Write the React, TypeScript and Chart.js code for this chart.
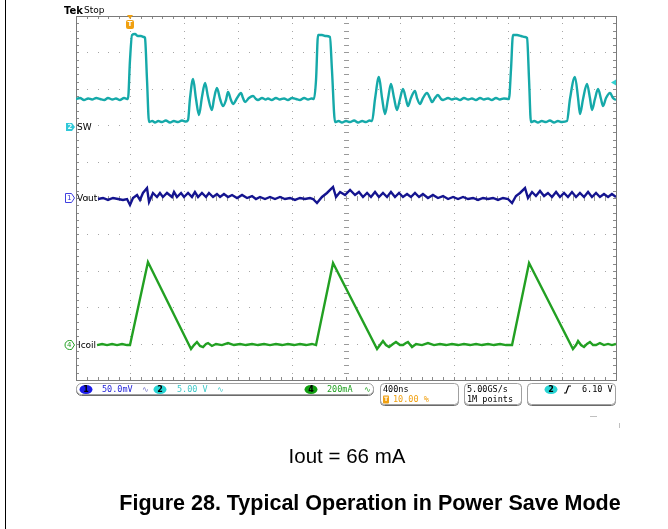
import React, { useEffect, useRef } from 'react';
import { Chart, registerables } from 'chart.js';

Chart.register(...registerables);

// ---- Scope settings ----
const timePerDivNs = 400;
const horizontalDivisions = 10;
const verticalDivisions = 10;
const triggerPositionPercent = 10;
const triggerLevelVolts = 6.1;

const swVoltsPerDiv = 5;
const swPositionDiv = 1.95;
const voutMilliVoltsPerDiv = 50;
const voutPositionDiv = 0;
const icoilMilliAmpsPerDiv = 200;
const icoilPositionDiv = -4;

// ---- Traces: [time ns, value] ----
const swTrace: number[][] = [
  [-400, 3.85], [-370, 3.98], [-341, 3.71], [-310, 3.92], [-281, 3.78], [-250, 3.98], [-222, 3.85], [-190, 3.71],
  [-163, 3.98], [-130, 3.78], [-104, 3.92], [-75, 3.71], [-44, 3.98], [-15, 3.85], [0, 9.2], [15, 12.64], [37, 12.77],
  [59, 12.5], [81, 12.5], [104, 12.36], [111, 12.23], [126, 6.46], [141, 0.69], [165, 0.82], [185, 0.62], [210, 0.82],
  [237, 0.69], [265, 0.89], [296, 0.62], [325, 0.82], [356, 0.69], [385, 0.89], [415, 0.75], [430, 0.96], [444, 3.85],
  [467, 6.59], [489, 3.85], [511, 1.65], [533, 4.12], [556, 6.04], [578, 4.12], [607, 2.34], [622, 3.85], [644, 5.36],
  [667, 3.85], [689, 2.88], [711, 3.71], [726, 4.81], [748, 3.71], [763, 3.16], [793, 3.98], [822, 4.67], [837, 3.98],
  [852, 3.43], [881, 3.98], [911, 4.26], [933, 3.85], [948, 3.71], [978, 3.98], [1005, 3.78], [1022, 3.92], [1050, 3.71],
  [1081, 3.98], [1110, 3.78], [1141, 3.92], [1170, 3.71], [1200, 3.98], [1230, 3.85], [1259, 3.71], [1290, 3.98],
  [1319, 3.78], [1345, 3.92], [1363, 3.85], [1378, 6.46], [1393, 12.64], [1422, 12.64], [1452, 12.5], [1481, 12.36],
  [1496, 7.83], [1519, 0.69], [1545, 0.82], [1570, 0.62], [1600, 0.82], [1630, 0.69], [1660, 0.89], [1689, 0.62],
  [1720, 0.82], [1748, 0.69], [1775, 0.89], [1793, 0.82], [1815, 3.85], [1844, 6.87], [1867, 3.98], [1889, 1.79],
  [1911, 3.85], [1933, 5.91], [1956, 3.98], [1978, 2.34], [2000, 3.85], [2022, 5.22], [2044, 3.85], [2059, 2.88],
  [2081, 3.98], [2111, 4.95], [2126, 3.98], [2148, 3.16], [2170, 3.98], [2200, 4.67], [2222, 3.98], [2237, 3.43],
  [2259, 3.98], [2281, 4.4], [2304, 3.85], [2319, 3.71], [2356, 3.98], [2385, 3.78], [2415, 3.92], [2445, 3.71],
  [2474, 3.98], [2505, 3.78], [2533, 3.92], [2563, 3.71], [2593, 3.98], [2622, 3.78], [2652, 3.92], [2680, 3.71],
  [2711, 3.98], [2740, 3.78], [2770, 3.92], [2807, 3.85], [2822, 7.83], [2837, 12.64], [2867, 12.64], [2896, 12.5],
  [2926, 12.36], [2941, 12.23], [2956, 6.46], [2970, 0.69], [2995, 0.82], [3022, 0.62], [3050, 0.82], [3081, 0.69],
  [3110, 0.89], [3141, 0.62], [3170, 0.82], [3200, 0.69], [3237, 0.82], [3259, 3.85], [3296, 6.87], [3319, 3.98],
  [3333, 1.79], [3356, 3.85], [3385, 5.91], [3407, 3.98], [3422, 2.34], [3444, 3.85], [3467, 5.22], [3489, 3.85],
  [3504, 2.88], [3526, 3.98], [3556, 4.67], [3578, 3.98], [3600, 3.71],
];

const voutTrace: number[][] = [
  [-237, -1.4], [-200, 0], [-163, -2.7], [-126, 0], [-89, -1.4], [-52, -2.7], [-22, -1.4], [0, -9.6], [22, 0], [52, 4.1],
  [74, -2.7], [96, 6.9], [126, 13.7], [141, -5.5], [170, 6.9], [200, 1.4], [222, 6.9], [244, 1.4], [274, 6.9], [311, 1.4],
  [326, 8.2], [348, 1.4], [378, 6.9], [400, 1.4], [430, 6.9], [459, 1.4], [481, 8.2], [504, 1.4], [533, 6.9], [563, 1.4],
  [585, 6.9], [615, 1.4], [644, 5.5], [667, 1.4], [696, 5.5], [726, 1.4], [756, 4.1], [793, 0], [830, 4.1], [867, 0],
  [904, 2.7], [933, -1.4], [963, 1.4], [1000, -1.4], [1037, 1.4], [1074, -1.4], [1111, 1.4], [1148, -1.4], [1185, 0],
  [1222, -2.7], [1259, 0], [1296, -1.4], [1333, 0], [1356, -1.4], [1385, -6.9], [1422, 1.4], [1459, 6.9], [1504, 15.1],
  [1526, 1.4], [1556, 8.2], [1593, 4.1], [1630, 11], [1667, 4.1], [1696, 8.2], [1726, 1.4], [1756, 6.9], [1785, 1.4],
  [1815, 8.2], [1844, 1.4], [1874, 6.9], [1904, 1.4], [1933, 8.2], [1963, 1.4], [1993, 6.9], [2022, 1.4], [2052, 5.5],
  [2081, 1.4], [2111, 6.9], [2141, 1.4], [2170, 5.5], [2207, 0], [2244, 4.1], [2281, 0], [2319, 2.7], [2356, -1.4],
  [2393, 1.4], [2430, -1.4], [2467, 1.4], [2504, -1.4], [2541, 0], [2578, -2.7], [2615, 0], [2652, -1.4], [2689, 0],
  [2726, -2.7], [2763, 0], [2800, -1.4], [2830, -6.9], [2859, 2.7], [2889, 6.9], [2926, 13.7], [2948, 0], [2978, 8.2],
  [3007, 2.7], [3037, 9.6], [3067, 2.7], [3096, 6.9], [3126, 1.4], [3156, 8.2], [3185, 1.4], [3215, 6.9], [3244, 1.4],
  [3274, 8.2], [3304, 1.4], [3333, 6.9], [3363, 1.4], [3393, 8.2], [3422, 1.4], [3452, 6.9], [3481, 1.4], [3511, 5.5],
  [3541, 1.4], [3570, 5.5], [3600, 1.4],
];

const icoilTrace: number[][] = [
  [-244, -8], [-207, -2], [-170, -8], [-133, -2], [-96, -8], [-59, -2], [-22, -8], [0, -8], [133, 448], [452, -30],
  [474, -8], [496, 9], [519, -13], [541, -19], [563, -2], [578, 3], [607, -13], [637, -2], [681, -8], [726, 3], [770, -8],
  [815, -2], [859, -8], [904, -2], [948, -8], [993, -2], [1037, -8], [1081, -2], [1126, -8], [1170, -2], [1215, -8],
  [1259, -2], [1304, -8], [1348, -2], [1378, -8], [1504, 443], [1830, -30], [1852, -8], [1874, 14], [1896, -8],
  [1919, -19], [1948, -2], [1970, 9], [2000, -8], [2022, -8], [2044, 3], [2059, 9], [2089, -19], [2119, -2], [2163, -8],
  [2207, 3], [2252, -8], [2296, -2], [2341, -8], [2385, -2], [2430, -8], [2474, -2], [2519, -8], [2563, -2], [2607, -8],
  [2652, -2], [2696, -8], [2741, -2], [2785, -8], [2830, -8], [2956, 443], [3281, -30], [3304, -8], [3319, 14],
  [3341, -8], [3363, -19], [3385, -2], [3407, 9], [3430, -8], [3452, -8], [3481, 3], [3511, -8], [3541, -2], [3570, -8],
  [3600, -2],
];

// ---- Labels ----
const channelLabels = ['SW', 'Vout', 'Icoil'];
const statusTexts = {
  ch1: '50.0mV', ch2: '5.00 V', ch4: '200mA', timebase: '400ns', trigPos: '10.00 %',
  rate: '5.00GS/s', points: '1M points', trigLevel: '6.10 V',
};
const captionText = 'Iout = 66 mA';
const figureTitle = 'Figure 28. Typical Operation in Power Save Mode';

const SW_COLOR = '#15a9a9';
const VOUT_COLOR = '#14148f';
const ICOIL_COLOR = '#22a022';
const ORANGE = '#f0a010';

function range(perDiv: number, pos: number) {
  return { min: (-verticalDivisions / 2 - pos) * perDiv, max: (verticalDivisions / 2 - pos) * perDiv };
}

const gridPlugin = {
  id: 'scopeGrid',
  beforeDatasetsDraw(chart: any) {
    const { ctx, chartArea: a } = chart;
    const xs = chart.scales.x;
    const ys = chart.scales.yV;
    const xAt = (d: number) => Math.round(xs.getPixelForValue(xs.min + d * timePerDivNs));
    const yAt = (d: number) => Math.round(ys.getPixelForValue(ys.min + d * voutMilliVoltsPerDiv));
    ctx.save();
    ctx.fillStyle = '#a6a6a6';
    for (let i = 1; i < horizontalDivisions; i++) {
      if (i === horizontalDivisions / 2) continue;
      const x = xAt(i);
      for (let k = 0; k <= verticalDivisions * 5; k++) ctx.fillRect(x, yAt(k / 5), 1, 1);
    }
    for (let j = 1; j < verticalDivisions; j++) {
      if (j === verticalDivisions / 2) continue;
      const y = yAt(j);
      for (let k = 0; k <= horizontalDivisions * 5; k++) ctx.fillRect(xAt(k / 5), y, 1, 1);
    }
    // center cross with ticks
    const cx = xAt(horizontalDivisions / 2);
    const cy = yAt(verticalDivisions / 2);
    ctx.fillStyle = '#9a9a9a';
    for (let k = 0; k <= verticalDivisions * 5; k++) ctx.fillRect(cx - 2, yAt(k / 5), 5, 1);
    for (let k = 0; k <= horizontalDivisions * 5; k++) ctx.fillRect(xAt(k / 5), cy - 2, 1, 5);
    for (let j = 0; j <= verticalDivisions; j++) ctx.fillRect(cx, yAt(j), 1, 1);
    // frame ticks
    ctx.fillStyle = '#8a8a8a';
    for (let k = 0; k <= horizontalDivisions * 5; k++) {
      const x = xAt(k / 5);
      ctx.fillRect(x, a.top, 1, 3);
      ctx.fillRect(x, a.bottom - 3, 1, 3);
    }
    for (let k = 0; k <= verticalDivisions * 5; k++) {
      const y = yAt(k / 5);
      ctx.fillRect(a.left, y, 3, 1);
      ctx.fillRect(a.right - 3, y, 3, 1);
    }
    ctx.strokeStyle = '#7a7a7a';
    ctx.lineWidth = 1;
    ctx.strokeRect(Math.round(a.left) + 0.5, Math.round(a.top) + 0.5, Math.round(a.right - a.left), Math.round(a.bottom - a.top));
    ctx.restore();
  },
};

function roundBox(ctx: CanvasRenderingContext2D, x: number, y: number, w: number, h: number, r: number) {
  ctx.beginPath();
  ctx.roundRect(x + 0.5, y + 1.5, w, h, r);
  ctx.strokeStyle = '#6a6a6a';
  ctx.lineWidth = 1;
  ctx.stroke();
  ctx.beginPath();
  ctx.roundRect(x + 0.5, y + 0.5, w, h, r);
  ctx.fillStyle = '#ffffff';
  ctx.fill();
  ctx.strokeStyle = '#a0a0a0';
  ctx.stroke();
}

function badge(ctx: CanvasRenderingContext2D, cx: number, cy: number, fill: string, label: string) {
  ctx.beginPath();
  ctx.ellipse(cx, cy, 6.5, 4.6, 0, 0, Math.PI * 2);
  ctx.fillStyle = fill;
  ctx.fill();
  ctx.fillStyle = '#000';
  ctx.font = 'bold 8px "DejaVu Sans"';
  ctx.textAlign = 'center';
  ctx.fillText(label, cx, cy + 0.5);
  ctx.textAlign = 'left';
}

const overlayPlugin = {
  id: 'scopeOverlay',
  afterDatasetsDraw(chart: any) {
    const { ctx, chartArea: a } = chart;
    const xs = chart.scales.x;
    ctx.save();
    ctx.textBaseline = 'middle';
    ctx.textAlign = 'left';

    // left page border
    ctx.fillStyle = '#000';
    ctx.fillRect(5, 0, 1, chart.height);

    // Tek Stop
    ctx.fillStyle = '#000';
    ctx.font = 'bold 10px "DejaVu Sans"';
    ctx.fillText('Tek', 64, 11);
    ctx.font = '9px "DejaVu Sans"';
    ctx.fillText('Stop', 84, 11);

    // trigger position marker
    const tx = Math.round(xs.getPixelForValue(0));
    ctx.fillStyle = ORANGE;
    ctx.beginPath();
    ctx.moveTo(tx - 3, 15); ctx.lineTo(tx + 3, 15); ctx.lineTo(tx, 19); ctx.closePath(); ctx.fill();
    ctx.beginPath();
    ctx.roundRect(tx - 4, 20, 8, 9, 2);
    ctx.fill();
    ctx.fillStyle = '#fff';
    ctx.font = 'bold 7px "DejaVu Sans"';
    ctx.textAlign = 'center';
    ctx.fillText('T', tx, 24.5);
    ctx.textAlign = 'left';

    // trigger level arrow on right edge
    const tly = chart.scales.ySW.getPixelForValue(triggerLevelVolts);
    ctx.fillStyle = '#30d0d0';
    ctx.beginPath();
    ctx.moveTo(a.right - 5, tly); ctx.lineTo(a.right, tly - 3); ctx.lineTo(a.right, tly + 3); ctx.closePath(); ctx.fill();

    // channel ground markers
    const swY = Math.round(chart.scales.ySW.getPixelForValue(0));
    ctx.fillStyle = '#30c8d8';
    ctx.beginPath();
    ctx.moveTo(66, swY - 4); ctx.lineTo(72, swY - 4); ctx.lineTo(75, swY); ctx.lineTo(72, swY + 4); ctx.lineTo(66, swY + 4);
    ctx.closePath(); ctx.fill();
    ctx.fillStyle = '#e8ffff';
    ctx.font = 'bold 7px "DejaVu Sans"';
    ctx.fillText('2', 67.5, swY + 0.5);
    ctx.fillStyle = '#000';
    ctx.font = '9px "DejaVu Sans"';
    ctx.fillText(channelLabels[0], 77, swY + 0.5);

    const vY = Math.round(chart.scales.yV.getPixelForValue(0));
    ctx.strokeStyle = '#4040e0';
    ctx.lineWidth = 1;
    ctx.beginPath();
    ctx.moveTo(65.5, vY - 4.5); ctx.lineTo(71.5, vY - 4.5); ctx.lineTo(74.5, vY); ctx.lineTo(71.5, vY + 4.5); ctx.lineTo(65.5, vY + 4.5);
    ctx.closePath(); ctx.stroke();
    ctx.fillStyle = '#3030d0';
    ctx.font = '7px "DejaVu Sans"';
    ctx.fillText('1', 67, vY + 0.5);
    ctx.fillStyle = '#000';
    ctx.font = '9px "DejaVu Sans"';
    ctx.fillText(channelLabels[1], 77, vY + 0.5);

    const iY = Math.round(chart.scales.yI.getPixelForValue(0)) + 1;
    ctx.strokeStyle = '#22a022';
    ctx.beginPath();
    ctx.moveTo(69.5, iY - 4.5); ctx.lineTo(71.5, iY - 4.5); ctx.lineTo(74.5, iY); ctx.lineTo(71.5, iY + 4.5); ctx.lineTo(69.5, iY + 4.5);
    ctx.arc(69.5, iY, 4.5, Math.PI / 2, Math.PI * 1.5);
    ctx.closePath(); ctx.stroke();
    ctx.fillStyle = '#22a022';
    ctx.font = '7px "DejaVu Sans"';
    ctx.fillText('4', 67, iY + 0.5);
    ctx.fillStyle = '#000';
    ctx.font = '9px "DejaVu Sans"';
    ctx.fillText(channelLabels[2], 78, iY + 0.5);

    // status bar
    roundBox(ctx, 76, 383, 297, 11, 5);
    roundBox(ctx, 380, 383, 78, 21, 4);
    roundBox(ctx, 464, 383, 57, 21, 4);
    roundBox(ctx, 527, 383, 88, 21, 4);

    const mono = '8.5px "DejaVu Sans Mono"';
    const r1 = 389.5;
    const r2 = 399.5;
    badge(ctx, 86, r1, '#1c1ce8', '1');
    ctx.font = mono;
    ctx.fillStyle = '#2424d8';
    ctx.fillText(statusTexts.ch1, 102, r1);
    ctx.fillStyle = '#7070c8';
    ctx.font = '8px "DejaVu Sans"';
    ctx.fillText('\u223F', 142, r1);
    badge(ctx, 160, r1, '#28d4d4', '2');
    ctx.font = mono;
    ctx.fillStyle = '#40c8c8';
    ctx.fillText(statusTexts.ch2, 177, r1);
    ctx.font = '8px "DejaVu Sans"';
    ctx.fillText('\u223F', 217, r1);
    badge(ctx, 311, r1, '#12a012', '4');
    ctx.font = mono;
    ctx.fillStyle = '#20a020';
    ctx.fillText(statusTexts.ch4, 327, r1);
    ctx.font = '8px "DejaVu Sans"';
    ctx.fillText('\u223F', 364, r1);

    ctx.font = mono;
    ctx.fillStyle = '#000';
    ctx.fillText(statusTexts.timebase, 383, r1);
    ctx.fillStyle = ORANGE;
    ctx.beginPath();
    ctx.roundRect(383, r2 - 4, 6, 8, 1);
    ctx.fill();
    ctx.fillStyle = '#fff';
    ctx.font = 'bold 6px "DejaVu Sans"';
    ctx.fillText('T', 384, r2);
    ctx.font = mono;
    ctx.fillStyle = ORANGE;
    ctx.fillText(statusTexts.trigPos, 393, r2);

    ctx.fillStyle = '#000';
    ctx.fillText(statusTexts.rate, 467, r1);
    ctx.fillText(statusTexts.points, 467, r2);

    badge(ctx, 551, r1, '#28d4d4', '2');
    ctx.strokeStyle = '#000';
    ctx.lineWidth = 1.2;
    ctx.beginPath();
    ctx.moveTo(564, r1 + 3.5); ctx.lineTo(566, r1 + 3.5); ctx.lineTo(568.5, r1 - 3.5); ctx.lineTo(571, r1 - 3.5);
    ctx.stroke();
    ctx.fillStyle = '#000';
    ctx.font = mono;
    ctx.fillText(statusTexts.trigLevel, 582, r1);

    // small artifacts below the screen
    ctx.fillStyle = '#c0c0c0';
    ctx.fillRect(590, 416, 7, 1);
    ctx.fillRect(619, 423, 1, 5);

    // captions
    ctx.fillStyle = '#000';
    ctx.textAlign = 'center';
    ctx.textBaseline = 'alphabetic';
    ctx.font = '20.5px "Liberation Sans", Arial, sans-serif';
    ctx.fillText(captionText, 347, 463);
    ctx.font = 'bold 21.5px "Liberation Sans", Arial, sans-serif';
    ctx.fillText(figureTitle, 370, 510);
    ctx.restore();
  },
};

export default function App() {
  const canvasRef = useRef<HTMLCanvasElement | null>(null);

  useEffect(() => {
    const canvas = canvasRef.current;
    if (!canvas) return;
    const xMin = (-triggerPositionPercent / 100) * horizontalDivisions * timePerDivNs;
    const xMax = xMin + horizontalDivisions * timePerDivNs;
    const toXY = (arr: number[][]) => arr.map(([x, y]) => ({ x, y }));
    const common = { pointRadius: 0, borderWidth: 2.4, tension: 0, fill: false };
    const chart = new Chart(canvas, {
      type: 'line',
      data: {
        datasets: [
          { label: 'SW', data: toXY(swTrace), yAxisID: 'ySW', borderColor: SW_COLOR, ...common, cubicInterpolationMode: 'monotone' },
          { label: 'Vout', data: toXY(voutTrace), yAxisID: 'yV', borderColor: VOUT_COLOR, ...common },
          { label: 'Icoil', data: toXY(icoilTrace), yAxisID: 'yI', borderColor: ICOIL_COLOR, ...common },
        ],
      },
      options: {
        responsive: false,
        animation: false,
        events: [],
        layout: { padding: { left: 76, top: 16, right: 52, bottom: 149 } },
        plugins: { legend: { display: false }, tooltip: { enabled: false } },
        scales: {
          x: { type: 'linear', min: xMin, max: xMax, display: false },
          ySW: { type: 'linear', ...range(swVoltsPerDiv, swPositionDiv), display: false },
          yV: { type: 'linear', ...range(voutMilliVoltsPerDiv, voutPositionDiv), display: false },
          yI: { type: 'linear', ...range(icoilMilliAmpsPerDiv, icoilPositionDiv), display: false },
        },
      } as any,
      plugins: [gridPlugin, overlayPlugin],
    });
    return () => chart.destroy();
  }, []);

  return (
    <div style={{ position: 'absolute', left: 0, top: 0, width: 668, height: 529, background: '#fff' }}>
      <canvas ref={canvasRef} width={668} height={529} style={{ display: 'block' }} />
    </div>
  );
}
